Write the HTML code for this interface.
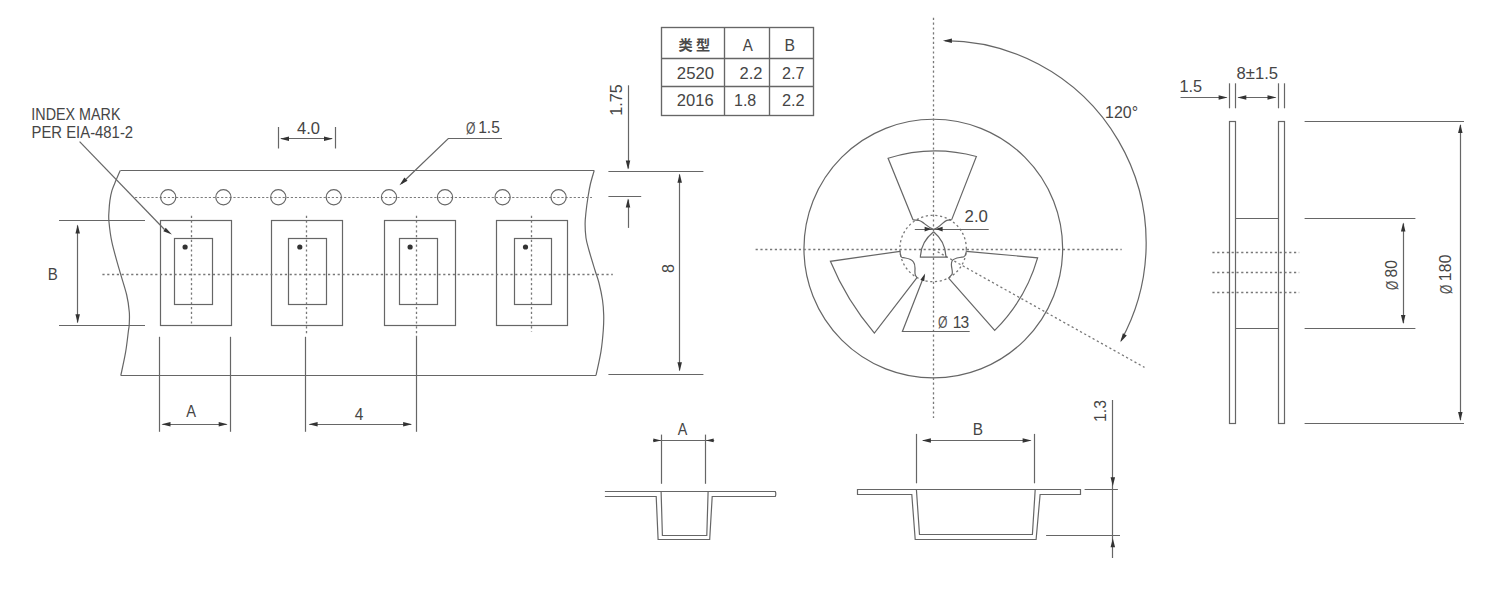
<!DOCTYPE html>
<html lang="zh"><head><meta charset="utf-8"><title>Tape and reel dimensions</title>
<style>
html,body{margin:0;padding:0;background:#fff;}
body{width:1508px;height:592px;overflow:hidden;}
svg{display:block;font-family:"Liberation Sans","Noto Sans CJK SC",sans-serif;}
svg text{fill:#454545;stroke:none;}
svg .o{fill:#555;}
svg text.cjk{font-weight:700;fill:#4a4a4a;}
.l{fill:none;stroke:#666;stroke-width:1.2;}
.t{fill:none;stroke:#666;stroke-width:1.35;}
.dash{fill:none;stroke:#7c7c7c;stroke-width:1.15;stroke-dasharray:2.2 1.9;}
.dot{fill:none;stroke:#787878;stroke-width:1.3;stroke-dasharray:2.2 2.6;}
.a{fill:#333;stroke:none;}
</style></head>
<body>
<svg width="1508" height="592" viewBox="0 0 1508 592">
<rect x="0" y="0" width="1508" height="592" fill="#fff"/>
<g>
<line class="l" x1="120.40" y1="170.50" x2="594.20" y2="170.50"/>
<line class="l" x1="120.80" y1="375.50" x2="596.00" y2="375.50"/>
<path class="l" d="M120.20,170.50 C119.50,172.13 117.37,176.98 116.00,180.30 C114.63,183.62 113.02,187.02 112.00,190.40 C110.98,193.78 110.40,197.17 109.90,200.60 C109.40,204.03 109.17,207.60 109.00,211.00 C108.83,214.40 108.42,215.80 108.90,221.00 C109.38,226.20 110.17,234.08 111.90,242.20 C113.63,250.32 116.83,260.90 119.30,269.70 C121.77,278.50 125.03,287.95 126.70,295.00 C128.37,302.05 128.88,307.00 129.30,312.00 C129.72,317.00 129.35,321.83 129.20,325.00 C129.05,328.17 129.00,326.47 128.40,331.00 C127.80,335.53 126.87,344.78 125.60,352.20 C124.33,359.62 121.60,371.62 120.80,375.50"/>
<path class="l" d="M594.20,170.50 C593.57,172.75 591.43,179.58 590.40,184.00 C589.37,188.42 588.73,192.33 588.00,197.00 C587.27,201.67 586.48,207.50 586.00,212.00 C585.52,216.50 585.10,219.67 585.10,224.00 C585.10,228.33 585.37,233.67 586.00,238.00 C586.63,242.33 587.42,244.67 588.90,250.00 C590.38,255.33 593.22,264.50 594.90,270.00 C596.58,275.50 597.73,278.00 599.00,283.00 C600.27,288.00 601.72,294.67 602.50,300.00 C603.28,305.33 603.57,310.00 603.70,315.00 C603.83,320.00 603.75,323.95 603.30,330.00 C602.85,336.05 602.22,343.72 601.00,351.30 C599.78,358.88 596.83,371.47 596.00,375.50"/>
<line class="dash" x1="135.00" y1="197.50" x2="592.00" y2="197.50"/>
<circle class="l" cx="168.20" cy="197.20" r="7.60"/>
<circle class="l" cx="223.40" cy="197.20" r="7.60"/>
<circle class="l" cx="278.30" cy="197.20" r="7.60"/>
<circle class="l" cx="333.80" cy="197.20" r="7.60"/>
<circle class="l" cx="389.00" cy="197.20" r="7.60"/>
<circle class="l" cx="445.00" cy="197.20" r="7.60"/>
<circle class="l" cx="502.60" cy="197.20" r="7.60"/>
<circle class="l" cx="558.60" cy="197.20" r="7.60"/>
<rect class="l" x="160.50" y="220.50" width="71.00" height="105.00"/>
<rect class="l" x="174.50" y="238.50" width="38.00" height="66.00"/>
<circle class="a" cx="185.10" cy="247.00" r="2.60"/>
<rect class="l" x="271.50" y="220.50" width="71.00" height="105.00"/>
<rect class="l" x="288.50" y="238.50" width="38.00" height="66.00"/>
<circle class="a" cx="299.80" cy="247.00" r="2.60"/>
<rect class="l" x="384.50" y="220.50" width="71.00" height="105.00"/>
<rect class="l" x="399.50" y="238.50" width="38.00" height="66.00"/>
<circle class="a" cx="410.10" cy="247.00" r="2.60"/>
<rect class="l" x="496.50" y="220.50" width="71.00" height="105.00"/>
<rect class="l" x="514.50" y="238.50" width="37.00" height="66.00"/>
<circle class="a" cx="525.50" cy="247.00" r="2.60"/>
<line class="dot" x1="102.40" y1="274.50" x2="612.80" y2="274.50"/>
<line class="dot" x1="191.50" y1="215.80" x2="191.50" y2="323.80"/>
<line class="dot" x1="306.50" y1="215.80" x2="306.50" y2="334.00"/>
<line class="dot" x1="416.50" y1="215.80" x2="416.50" y2="337.00"/>
<line class="dot" x1="531.50" y1="215.80" x2="531.50" y2="331.60"/>
<text font-size="15.6" transform="translate(31.37 119.70) scale(0.9186 1)">INDEX MARK</text>
<text font-size="15.6" transform="translate(31.47 138.10) scale(0.9535 1)">PER EIA-481-2</text>
<line class="l" x1="79.60" y1="141.70" x2="164.50" y2="229.50"/>
<polygon class="a" points="171.90,234.60 163.32,231.16 165.73,227.72"/>
<line class="l" x1="278.50" y1="127.00" x2="278.50" y2="148.50"/>
<line class="l" x1="335.50" y1="127.00" x2="335.50" y2="148.50"/>
<line class="l" x1="281.00" y1="138.50" x2="332.00" y2="138.50"/>
<polygon class="a" points="280.00,138.70 289.00,136.45 289.00,140.95"/>
<polygon class="a" points="333.00,138.70 324.00,140.95 324.00,136.45"/>
<text font-size="15.6" transform="translate(297.03 133.80) scale(1.0603 1)">4.0</text>
<text transform="translate(0 133.10)"><tspan class="o" x="465.97" dy="0.6" font-size="17" textLength="9.46" lengthAdjust="spacingAndGlyphs">Ø</tspan><tspan x="478.13" dy="-0.6" font-size="15.6" letter-spacing="0.055">1.5</tspan></text>
<path class="l" d="M502,138.5 L448.3,138.5 L401.5,183.5"/>
<polygon class="a" points="399.50,185.30 404.38,177.41 407.52,180.64"/>
<line class="l" x1="59.00" y1="220.50" x2="145.00" y2="220.50"/>
<line class="l" x1="59.00" y1="325.50" x2="145.00" y2="325.50"/>
<line class="l" x1="77.50" y1="225.50" x2="77.50" y2="322.50"/>
<polygon class="a" points="77.70,224.60 79.95,233.60 75.45,233.60"/>
<polygon class="a" points="77.70,323.20 75.45,314.20 79.95,314.20"/>
<text font-size="15.6" transform="translate(47.76 279.80) scale(0.9630 1)">B</text>
<line class="l" x1="159.50" y1="336.80" x2="159.50" y2="431.80"/>
<line class="l" x1="230.50" y1="336.80" x2="230.50" y2="431.80"/>
<line class="l" x1="162.50" y1="424.50" x2="226.60" y2="424.50"/>
<polygon class="a" points="161.50,424.20 170.50,421.95 170.50,426.45"/>
<polygon class="a" points="227.70,424.20 218.70,426.45 218.70,421.95"/>
<text font-size="15.6" transform="translate(186.16 416.70) scale(0.9386 1)">A</text>
<line class="l" x1="305.50" y1="336.80" x2="305.50" y2="431.80"/>
<line class="l" x1="416.50" y1="336.80" x2="416.50" y2="431.80"/>
<line class="l" x1="309.50" y1="424.50" x2="411.00" y2="424.50"/>
<polygon class="a" points="308.60,424.20 317.60,421.95 317.60,426.45"/>
<polygon class="a" points="412.10,424.20 403.10,426.45 403.10,421.95"/>
<text font-size="15.6" transform="translate(354.75 420.10) scale(0.9901 1)">4</text>
<line class="l" x1="628.50" y1="85.30" x2="628.50" y2="168.50"/>
<polygon class="a" points="628.00,169.60 625.75,160.60 630.25,160.60"/>
<line class="l" x1="608.40" y1="171.50" x2="703.40" y2="171.50"/>
<line class="l" x1="608.40" y1="196.50" x2="641.20" y2="196.50"/>
<line class="l" x1="628.50" y1="227.90" x2="628.50" y2="199.50"/>
<polygon class="a" points="628.00,198.60 630.25,207.60 625.75,207.60"/>
<text font-size="15.6" transform="translate(621.90 115.71) rotate(-90) scale(1.0369 1)">1.75</text>
<line class="l" x1="608.40" y1="374.50" x2="703.40" y2="374.50"/>
<line class="l" x1="679.50" y1="174.50" x2="679.50" y2="370.50"/>
<polygon class="a" points="679.70,173.70 681.95,182.70 677.45,182.70"/>
<polygon class="a" points="679.70,371.30 677.45,362.30 681.95,362.30"/>
<text font-size="15.6" transform="translate(673.80 272.99) rotate(-90) scale(1.0366 1)">8</text>
<rect class="t" x="661.50" y="27.50" width="152.00" height="88.00"/>
<line class="t" x1="724.50" y1="27.40" x2="724.50" y2="115.40"/>
<line class="t" x1="769.50" y1="27.40" x2="769.50" y2="115.40"/>
<line class="t" x1="661.70" y1="58.50" x2="813.80" y2="58.50"/>
<line class="t" x1="661.70" y1="86.50" x2="813.80" y2="86.50"/>
<text class="cjk" font-size="14.2" letter-spacing="3.2" x="678.6" y="49.9">类型</text>
<text font-size="15.8" transform="translate(742.76 50.70) scale(0.9553 1)">A</text>
<text font-size="15.8" transform="translate(784.60 50.70) scale(0.9984 1)">B</text>
<text font-size="15.8" transform="translate(676.86 79.20) scale(1.0583 1)">2520</text>
<text font-size="15.8" transform="translate(739.57 79.20) scale(1.0450 1)">2.2</text>
<text font-size="15.8" transform="translate(781.99 79.20) scale(1.0205 1)">2.7</text>
<text font-size="15.8" transform="translate(676.87 106.10) scale(1.0459 1)">2016</text>
<text font-size="15.8" transform="translate(734.00 106.10) scale(1.0146 1)">1.8</text>
<text font-size="15.8" transform="translate(781.98 106.10) scale(1.0352 1)">2.2</text>
<circle class="l" cx="933.30" cy="248.60" r="129.35"/>
<line class="dot" x1="933.50" y1="17.80" x2="933.50" y2="418.00"/>
<line class="dot" x1="755.60" y1="249.50" x2="1121.70" y2="249.50"/>
<circle class="dot" cx="933.10" cy="248.50" r="33.20"/>
<line class="dot" x1="933.40" y1="249.40" x2="1144.50" y2="367.40"/>
<path class="l" d="M944.90,40.60 A202.3,202.3 0 0 1 1120.90,340.80"/>
<polygon class="a" points="942.90,40.70 951.92,38.53 951.88,43.03"/>
<polygon class="a" points="1120.40,342.30 1122.87,333.36 1126.79,335.57"/>
<text font-size="15.6" transform="translate(1105.10 117.70) scale(1.0217 1)">120°</text>
<path class="l" d="M913.1,219.9 L888.1,158.3 A158,158 0 0 1 976.4,156.5 L951.7,219.6"/>
<path class="l" d="M966.3,251.3 L1037.6,257.8 A168,168 0 0 1 994.7,330.4 L948.6,278.1"/>
<path class="l" d="M900.1,251.3 L830.4,261.3 A270,270 0 0 0 874.4,333.1 L917,277.6"/>
<path class="l" d="M913.1,219.9 L918.6,220.4 C923.5,221.2 926.5,227.2 933.6,229.3 C940.5,227.2 943.5,221.2 946.8,220.3 L951.7,219.6"/>
<path class="l" d="M933.6,231.8 C926.5,237.5 920.6,246.5 920.4,257.2 L947.3,257.2 M945.9,257.2 C945.7,246.5 940.5,237.5 933.6,231.8"/>
<path class="l" d="M900.1,251.3 C900.3,254.5 900.2,256.6 901.8,257.3 C906.5,258.5 911,258.2 913.4,261.8 C916.8,266 913.6,272.5 915.6,275.6 L917,277.6"/>
<path class="l" d="M966.3,251.3 C966.1,254 965.6,256 963.7,256.8 C958.5,258 954.2,257.6 952.2,260.8 C949.6,265 953.6,270.5 952,274.4 L948.6,278.1"/>
<line class="l" x1="914.80" y1="229.50" x2="988.70" y2="229.50"/>
<polygon class="a" points="931.60,229.10 924.60,231.40 924.60,226.80"/>
<polygon class="a" points="935.60,229.10 942.60,226.80 942.60,231.40"/>
<text font-size="15.6" transform="translate(964.56 222.40) scale(1.0778 1)">2.0</text>
<path class="l" d="M969.7,331.5 L902.4,331.5 L924,276"/>
<polygon class="a" points="925.10,273.50 924.21,281.21 920.49,279.75"/>
<text transform="translate(0 327.80)"><tspan class="o" x="937.97" dy="0.6" font-size="17" textLength="9.46" lengthAdjust="spacingAndGlyphs">Ø</tspan><tspan x="949.18" dy="-0.6" font-size="15.6" letter-spacing="-0.783"> 13</tspan></text>
<rect class="l" x="1229.50" y="121.50" width="6.00" height="302.00"/>
<rect class="l" x="1278.50" y="121.50" width="6.00" height="302.00"/>
<line class="l" x1="1235.70" y1="218.50" x2="1278.20" y2="218.50"/>
<line class="l" x1="1235.70" y1="328.50" x2="1278.20" y2="328.50"/>
<line class="dot" x1="1212.40" y1="252.50" x2="1299.20" y2="252.50"/>
<line class="dot" x1="1212.40" y1="272.50" x2="1299.20" y2="272.50"/>
<line class="dot" x1="1212.40" y1="292.50" x2="1299.20" y2="292.50"/>
<line class="l" x1="1229.50" y1="83.30" x2="1229.50" y2="108.30"/>
<line class="l" x1="1235.50" y1="83.30" x2="1235.50" y2="108.30"/>
<line class="l" x1="1278.50" y1="83.30" x2="1278.50" y2="108.30"/>
<line class="l" x1="1284.50" y1="83.30" x2="1284.50" y2="108.30"/>
<line class="l" x1="1180.50" y1="97.50" x2="1226.50" y2="97.50"/>
<polygon class="a" points="1227.60,97.40 1218.60,99.65 1218.60,95.15"/>
<line class="l" x1="1238.30" y1="97.50" x2="1275.50" y2="97.50"/>
<polygon class="a" points="1237.30,97.40 1246.30,95.15 1246.30,99.65"/>
<polygon class="a" points="1276.50,97.40 1267.50,99.65 1267.50,95.15"/>
<text font-size="15.6" transform="translate(1179.38 92.30) scale(1.0458 1)">1.5</text>
<text font-size="15.6" transform="translate(1236.59 79.10) scale(1.0655 1)">8±1.5</text>
<line class="l" x1="1304.60" y1="121.50" x2="1464.00" y2="121.50"/>
<line class="l" x1="1304.60" y1="423.50" x2="1464.00" y2="423.50"/>
<line class="l" x1="1460.50" y1="125.00" x2="1460.50" y2="420.00"/>
<polygon class="a" points="1460.30,124.00 1462.55,133.00 1458.05,133.00"/>
<polygon class="a" points="1460.30,421.00 1458.05,412.00 1462.55,412.00"/>
<line class="l" x1="1304.60" y1="218.50" x2="1415.40" y2="218.50"/>
<line class="l" x1="1304.60" y1="328.50" x2="1415.40" y2="328.50"/>
<line class="l" x1="1403.50" y1="223.50" x2="1403.50" y2="323.00"/>
<polygon class="a" points="1403.20,222.60 1405.45,231.60 1400.95,231.60"/>
<polygon class="a" points="1403.20,323.90 1400.95,314.90 1405.45,314.90"/>
<text transform="translate(1397.30 0) rotate(-90)"><tspan class="o" x="-289.92" dy="0.6" font-size="17" textLength="9.35" lengthAdjust="spacingAndGlyphs">Ø</tspan><tspan x="-277.56" dy="-0.6" font-size="15.6" letter-spacing="0.132">80</tspan></text>
<text transform="translate(1451.20 0) rotate(-90)"><tspan class="o" x="-294.12" dy="0.6" font-size="17" textLength="9.35" lengthAdjust="spacingAndGlyphs">Ø</tspan><tspan x="-281.17" dy="-0.6" font-size="15.6" letter-spacing="0.321">180</tspan></text>
<path class="l" d="M604.9,491.5 L775.3,491.5 Q776.3,494 775.3,496.5 L712.2,496.5 L709.7,539.5 L658.1,539.5 L656.2,496.5 L604.9,496.5"/>
<path class="l" d="M661.1,491.5 L662.4,535.5 L706.8,535.5 L708.1,491.5"/>
<line class="l" x1="661.50" y1="434.60" x2="661.50" y2="483.80"/>
<line class="l" x1="705.50" y1="434.60" x2="705.50" y2="483.80"/>
<line class="l" x1="653.00" y1="440.50" x2="714.20" y2="440.50"/>
<polygon class="a" points="661.30,440.40 653.30,442.30 653.30,438.50"/>
<polygon class="a" points="705.70,440.40 713.70,438.50 713.70,442.30"/>
<text font-size="15.6" transform="translate(677.66 435.10) scale(0.9192 1)">A</text>
<path class="l" d="M857.5,489.5 L1080.5,489.5 L1080.5,494.5 L1040.1,494.5 L1036.1,539.5 L915.2,539.5 L911.8,494.5 L857.5,494.5 Z"/>
<path class="l" d="M916.4,489.5 L919.5,534.5 L1032.4,534.5 L1035.2,489.5"/>
<line class="l" x1="916.50" y1="433.90" x2="916.50" y2="483.30"/>
<line class="l" x1="1034.50" y1="433.90" x2="1034.50" y2="483.30"/>
<line class="l" x1="923.00" y1="440.50" x2="1030.50" y2="440.50"/>
<polygon class="a" points="921.90,440.50 930.90,438.25 930.90,442.75"/>
<polygon class="a" points="1031.60,440.50 1022.60,442.75 1022.60,438.25"/>
<text font-size="15.6" transform="translate(972.73 434.80) scale(0.9871 1)">B</text>
<line class="l" x1="1112.50" y1="400.00" x2="1112.50" y2="558.00"/>
<polygon class="a" points="1112.80,486.20 1110.55,477.20 1115.05,477.20"/>
<polygon class="a" points="1112.80,538.20 1115.05,547.20 1110.55,547.20"/>
<line class="l" x1="1084.60" y1="489.50" x2="1117.90" y2="489.50"/>
<line class="l" x1="1046.10" y1="535.50" x2="1120.00" y2="535.50"/>
<text font-size="15.6" transform="translate(1106.30 421.98) rotate(-90) scale(1.0125 1)">1.3</text>
</g>
</svg>
</body></html>
